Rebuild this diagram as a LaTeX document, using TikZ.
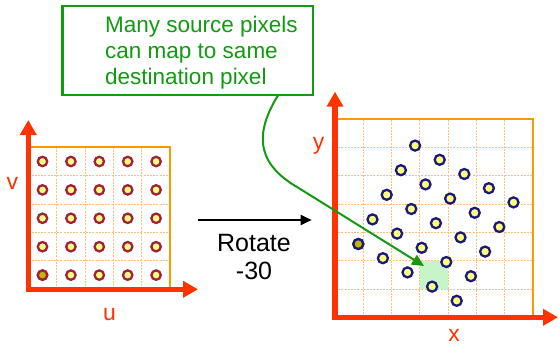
\documentclass[tikz,border=0pt]{standalone}
\usepackage{fontspec}
\setmainfont{Liberation Sans}
\usetikzlibrary{arrows.meta}
\definecolor{axisred}{HTML}{FF3300}
\definecolor{gridorange}{HTML}{FF9900}
\definecolor{gridlight}{HTML}{FFBE7A}
\definecolor{dotred}{HTML}{A3203A}
\definecolor{dotyellow}{HTML}{FFFF80}
\definecolor{dotolive}{HTML}{C2B800}
\definecolor{dotnavy}{HTML}{1A1A7A}
\definecolor{callgreen}{HTML}{139A13}
\definecolor{cellgreen}{HTML}{C8F5C8}
\begin{document}
\begin{tikzpicture}[x=1pt,y=-1pt,
  gridline/.style={draw=gridlight,line width=0.9pt,dash pattern=on 2pt off 1.2pt},
  gridbox/.style={draw=gridorange,line width=2.2pt},
  axis/.style={draw=axisred,line width=5.2pt,{Triangle[length=15pt,width=16pt]}-{Triangle[length=15pt,width=16pt]}},
  axlabel/.style={text=axisred,font=\fontsize{23}{26}\selectfont,anchor=base,inner sep=0pt},
  srcdot/.style={circle,draw=dotred,fill=dotyellow,line width=2.3pt,minimum size=9.4pt,inner sep=0pt},
  dstdot/.style={circle,draw=dotnavy,fill=dotyellow,line width=2.3pt,minimum size=10pt,inner sep=0pt},
  calloutbox/.style={draw=callgreen,line width=2.3pt,fill=white,inner sep=0pt},
  callouttext/.style={text=callgreen,font=\fontsize{22.5}{26}\selectfont,align=left,inner sep=0pt,anchor=north west},
  pointer/.style={draw=callgreen,line width=2pt,-{Triangle[length=12pt,width=11pt]}},
  mapping/.style={draw=black,line width=1.8pt,-{Triangle[length=11pt,width=10pt]}},
  ]
\useasboundingbox (0,0) rectangle (559,345);

% ---------- left (source) panel ----------
\def\lx{28.3}\def\ly{289.3}\def\lc{28.4}
\foreach \i in {1,...,4}{
  \draw[gridline] (\lx+\i*\lc,\ly) -- (\lx+\i*\lc,\ly-5*\lc);
  \draw[gridline] (\lx,\ly-\i*\lc) -- (\lx+5*\lc,\ly-\i*\lc);
}
\draw[gridbox] (\lx,\ly) rectangle (\lx+5*\lc,\ly-5*\lc);
\coordinate (lorig) at (\lx,\ly);
\coordinate (vtip) at (\lx,120);
\coordinate (utip) at (198,\ly);
\draw[axis] (vtip) -- (lorig) -- (utip);
\foreach \i in {0,...,4}{
  \foreach \j in {0,...,4}{
    \node[srcdot] (s-\i-\j) at (\lx+\lc/2+\i*\lc,\ly-\lc/2-\j*\lc) {};
  }
}
\node[srcdot,fill=dotolive] at (s-0-0) {};
\node[axlabel] (vlab) at (12.3,189.3) {v};
\node[axlabel] (ulab) at (109.5,320) {u};

% ---------- mapping arrow ----------
\coordinate (mstart) at (198.3,220);
\coordinate (mend) at (311.7,220);
\draw[mapping] (mstart) -- (mend);
\node[align=center,font=\fontsize{25}{27.7}\selectfont,inner sep=0pt,anchor=north] (rot) at (254,234.4) {Rotate\\-30};

% ---------- right (destination) panel ----------
\def\rx{335}\def\ry{317.3}\def\rc{28.3}
\fill[cellgreen] (\rx+3*\rc,\ry-\rc) rectangle (\rx+4*\rc,\ry-2*\rc);
\foreach \i in {1,...,6}{
  \draw[gridline] (\rx+\i*\rc,\ry) -- (\rx+\i*\rc,\ry-7*\rc);
  \draw[gridline] (\rx,\ry-\i*\rc) -- (\rx+7*\rc,\ry-\i*\rc);
}
\draw[gridbox] (\rx,\ry) rectangle (\rx+7*\rc,\ry-7*\rc);
\coordinate (rorig) at (\rx,\ry);
\coordinate (ytip) at (\rx,91.7);
\coordinate (xtip) at (558,\ry);
\draw[axis] (ytip) -- (rorig) -- (xtip);
\foreach \i in {0,...,4}{
  \foreach \j in {0,...,4}{
    \node[dstdot] (d-\i-\j) at (358.3+\i*24.6+\j*14.2,244+\i*14.2-\j*24.6) {};
  }
}
\node[dstdot,fill=dotolive] at (d-0-0) {};
\node[axlabel] (ylab) at (318.7,149) {y};
\node[axlabel] (xlab) at (454,341.5) {x};

% ---------- callout ----------
\node[calloutbox,minimum width=250.8pt,minimum height=89pt] (callout) at (187.9,50.5) {};
\node[callouttext] (msg) at (105,15.6) {Many source pixels\\can map to same\\destination pixel};
\coordinate (cstart) at (278.3,95);
\coordinate (cmid) at (297,187);
\coordinate (ctip) at (424,266);
\draw[pointer] (cstart) .. controls (250,140) and (263,167) .. (cmid) -- (ctip);
\end{tikzpicture}
\end{document}
